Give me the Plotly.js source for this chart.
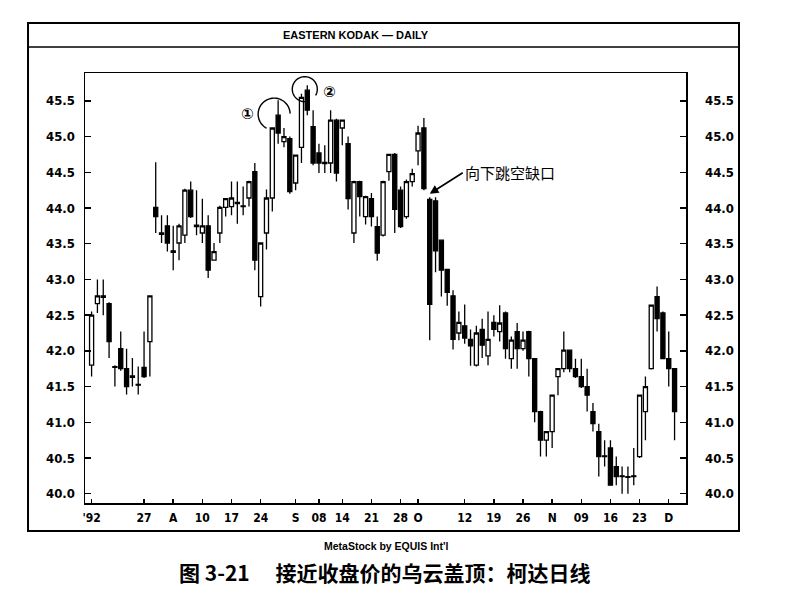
<!DOCTYPE html>
<html>
<head>
<meta charset="utf-8">
<script src="https://cdn.plot.ly/plotly-3.0.1.min.js"></script>
<style>html,body{margin:0;padding:0;background:#fff}#chart{width:787px;height:597px}</style>
</head>
<body>
<div id="chart"></div>
<script>
// ---- data, one entry per trading day ----
const openP = [41.80,42.66,42.77,42.66,41.78,42.03,41.75,41.63,41.53,41.77,
  42.13,44.01,43.65,43.75,43.40,43.51,43.62,44.25,43.76,43.65,
  43.75,43.27,43.65,44.01,44.02,44.08,44.02,44.14,44.51,42.76,
  43.65,44.14,45.30,44.93,44.97,44.35,44.85,45.65,45.14,44.77,
  44.62,44.63,45.23,45.12,44.90,43.65,44.37,43.88,44.13,43.74,
  43.62,44.51,44.75,44.25,43.88,44.37,44.80,45.12,44.12,44.10,
  43.55,43.14,42.77,42.25,42.35,42.16,41.80,42.30,41.93,42.40,
  42.27,42.53,41.89,42.27,42.03,42.27,41.89,41.15,40.75,40.87,
  41.64,41.75,42.01,41.75,41.64,41.50,41.15,40.87,40.53,40.64,
  40.38,40.25,40.23,40.25,40.52,41.15,41.75,42.76,42.53,41.89,
  41.75];
const highP = [42.55,43.00,43.00,42.68,41.80,42.27,42.03,41.90,41.78,42.27,
  42.78,44.64,43.90,43.90,43.75,43.78,44.27,44.37,44.25,44.13,
  43.90,43.51,44.03,44.14,44.37,44.37,44.30,44.38,44.63,43.52,
  44.26,45.13,45.51,45.12,45.00,44.75,45.60,45.72,45.37,44.90,
  44.88,45.37,45.25,45.24,45.00,44.38,44.38,44.17,44.21,43.88,
  44.38,44.76,44.77,44.30,44.40,44.55,45.15,45.26,44.15,44.15,
  43.56,43.15,42.85,42.55,42.65,42.30,42.35,42.45,42.55,42.50,
  42.64,42.55,42.20,42.39,42.27,42.28,41.90,41.16,40.87,41.38,
  41.75,42.27,42.02,41.89,41.89,41.75,41.27,40.98,40.75,40.75,
  40.52,40.38,40.38,40.64,41.38,41.64,42.64,42.90,42.55,42.27,
  41.76];
const lowP = [41.64,42.53,42.50,41.90,41.50,41.72,41.39,41.50,41.39,41.62,
  41.64,43.65,43.51,43.39,43.13,43.27,43.51,43.86,43.62,43.51,
  43.02,43.26,43.51,43.88,43.90,43.78,43.90,44.02,43.13,42.62,
  43.42,43.95,44.90,44.85,44.20,44.25,44.63,45.30,44.60,44.49,
  44.49,44.49,44.37,44.88,43.98,43.51,43.88,43.77,43.74,43.26,
  43.60,44.38,43.65,43.72,43.85,44.30,44.60,44.25,42.15,43.10,
  42.76,42.63,42.02,42.15,42.10,41.79,41.78,41.90,41.80,42.20,
  42.13,41.89,41.75,41.75,42.00,41.64,41.00,40.52,40.52,40.64,
  41.38,41.70,41.70,41.62,41.48,41.15,40.87,40.24,40.38,40.12,
  40.12,40.00,40.00,40.12,40.50,40.75,41.74,42.27,41.89,41.50,
  40.75];
const closeP = [42.50,42.77,42.75,42.13,41.77,41.75,41.50,41.65,41.52,41.64,
  42.77,43.88,43.63,43.51,43.38,43.75,44.25,43.88,43.74,43.75,
  43.13,43.39,44.01,44.13,44.14,44.06,44.03,44.37,43.27,43.51,
  44.14,45.12,45.05,45.00,44.23,44.74,45.55,45.37,44.63,44.63,
  44.64,45.23,44.49,45.23,44.13,44.37,44.16,44.16,43.88,43.37,
  44.37,44.75,43.98,43.74,44.37,44.48,45.05,44.27,42.65,43.40,
  43.13,42.82,42.16,42.40,42.18,42.07,42.25,42.08,42.16,42.30,
  42.39,42.03,42.15,42.03,42.15,41.89,41.15,40.75,40.87,41.38,
  41.75,42.01,41.75,41.64,41.50,41.38,40.98,40.52,40.52,40.12,
  40.24,40.24,40.24,40.24,41.38,41.50,42.64,42.45,41.89,41.75,
  41.15];

// bottom axis labels and the trading-day index they sit on
const tickLabels = ["'92","27","A","10","17","24","S","08","14","21","28","O","12","19","26","N","09","16","23","D"];
const tickDays   = [0,9,14,19,24,29,35,39,43,48,53,56,64,69,74,79,84,89,94,99];

// annotated candles
const cloud1Day = 32;   // ①
const cloud2Day = 37;   // ②
const gapDay = 58;      // downward gap
const gapText = "向下跳空缺口";

const day = openP.map((_, i) => i);

const price = {
  type: 'candlestick',
  x: day, open: openP, high: highP, low: lowP, close: closeP,
  increasing: {line: {color: '#000', width: 1.3}, fillcolor: '#fff'},
  decreasing: {line: {color: '#000', width: 1.3}, fillcolor: '#000'},
  whiskerwidth: 0,
  hoverinfo: 'skip',
  showlegend: false
};
const rightAxisHelper = {
  type: 'scatter', x: day, y: closeP, mode: 'none', yaxis: 'y2',
  hoverinfo: 'skip', showlegend: false
};

function arcPath(cx, cy, r, a0, a1) {
  let d = '';
  for (let a = a0; a <= a1 + 0.001; a += 5) {
    const t = a * Math.PI / 180;
    const px = (cx + r * Math.cos(t)).toFixed(2);
    const py = (cy + r * Math.sin(t)).toFixed(2);
    d += (d ? ' L ' : 'M ') + px + ' ' + py;
  }
  return d;
}

const narrow = 'Liberation Sans Narrow, DejaVu Sans Condensed, Arial Narrow, sans-serif';
const yrange = [39.87, 45.89];
const xrange = [-1.13, 101.96];

const layout = {
  width: 787, height: 597,
  margin: {l: 85, r: 101, t: 73, b: 94, pad: 0},
  paper_bgcolor: '#fff', plot_bgcolor: '#fff',
  showlegend: false,
  boxgap: 0.3, boxgroupgap: 0,
  xaxis: {
    range: xrange, rangeslider: {visible: false},
    tickmode: 'array', tickvals: tickDays, ticktext: tickLabels,
    ticks: 'inside', ticklen: 4, tickwidth: 1.5, tickcolor: '#000',
    showline: true, linecolor: '#000', linewidth: 1.5, mirror: true,
    showgrid: false, zeroline: false,
    tickfont: {family: narrow, size: 12, color: '#000', weight: 'bold'},
    ticklabelstandoff: 3
  },
  yaxis: {
    range: yrange, tickmode: 'linear', tick0: 40, dtick: 0.5, tickformat: '.1f',
    ticks: 'inside', ticklen: 6, tickwidth: 1.5, tickcolor: '#000',
    showline: true, linecolor: '#000', linewidth: 1.5, mirror: true,
    showgrid: false, zeroline: false,
    tickfont: {family: narrow, size: 13, color: '#000', weight: 'bold'},
    ticklabelstandoff: 6
  },
  yaxis2: {
    range: yrange, overlaying: 'y', side: 'right',
    tickmode: 'linear', tick0: 40, dtick: 0.5, tickformat: '.1f',
    ticks: 'inside', ticklen: 6, tickwidth: 1.5, tickcolor: '#000',
    showline: false, showgrid: false, zeroline: false,
    tickfont: {family: narrow, size: 13, color: '#000', weight: 'bold'},
    ticklabelstandoff: 18
  },
  shapes: [
    {type: 'rect', xref: 'paper', yref: 'paper', x0: -0.0948, x1: 1.0882, y0: -0.0651, y1: 1.1163,
     line: {color: '#000', width: 2}},
    {type: 'line', xref: 'paper', yref: 'paper', x0: -0.0948, x1: 1.0882, y0: 1.0605, y1: 1.0605,
     line: {color: '#000', width: 1.5}},
    {type: 'path', xref: 'x', yref: 'y', xsizemode: 'pixel', ysizemode: 'pixel',
     xanchor: cloud1Day, yanchor: highP[cloud1Day],
     path: arcPath(-4, -14, 16, 2, 246), line: {color: '#000', width: 1.4}},
    {type: 'path', xref: 'x', yref: 'y', xsizemode: 'pixel', ysizemode: 'pixel',
     xanchor: cloud2Day, yanchor: highP[cloud2Day],
     path: arcPath(-2.5, -4, 12.5, -30, 280), line: {color: '#000', width: 1.4}}
  ],
  annotations: [
    {xref: 'paper', yref: 'paper', x: 0.451, y: 1.088, showarrow: false,
     text: 'EASTERN KODAK — DAILY', xanchor: 'center', yanchor: 'middle',
     font: {family: 'Liberation Sans, Arial, sans-serif', size: 11, color: '#000', weight: 'bold'}},
    {xref: 'paper', yref: 'paper', x: 0.502, y: -0.1, showarrow: false,
     text: "MetaStock by EQUIS Int'l", xanchor: 'center', yanchor: 'middle',
     font: {family: 'Liberation Sans, Arial, sans-serif', size: 10.5, color: '#000', weight: 'bold'}},
    {xref: 'paper', yref: 'paper', x: 0.499, y: -0.161, showarrow: false,
     text: '图 3-21　 接近收盘价的乌云盖顶：柯达日线', xanchor: 'center', yanchor: 'middle',
     font: {family: 'Noto Sans CJK SC, sans-serif', size: 21, color: '#000', weight: 'bold'}},
    {xref: 'x', yref: 'y', x: cloud1Day, y: highP[cloud1Day], xshift: -31, yshift: -14,
     showarrow: false, text: '①', font: {family: 'DejaVu Sans, Noto Sans CJK SC, sans-serif', size: 15, color: '#000', weight: 'bold'}},
    {xref: 'x', yref: 'y', x: cloud2Day, y: highP[cloud2Day], xshift: 22, yshift: -7,
     showarrow: false, text: '②', font: {family: 'DejaVu Sans, Noto Sans CJK SC, sans-serif', size: 15, color: '#000', weight: 'bold'}},
    {xref: 'x', yref: 'y', x: gapDay, y: (lowP[gapDay - 1] + highP[gapDay]) / 2,
     text: gapText, showarrow: true, arrowhead: 2, arrowsize: 1.1, arrowwidth: 1.6, arrowcolor: '#000',
     ax: 33, ay: -21, xanchor: 'left', yanchor: 'middle',
     font: {family: 'Noto Sans CJK SC, sans-serif', size: 15, color: '#000'}}
  ]
};

Plotly.newPlot('chart', [price, rightAxisHelper], layout, {staticPlot: true, displayModeBar: false});
</script>
</body>
</html>
